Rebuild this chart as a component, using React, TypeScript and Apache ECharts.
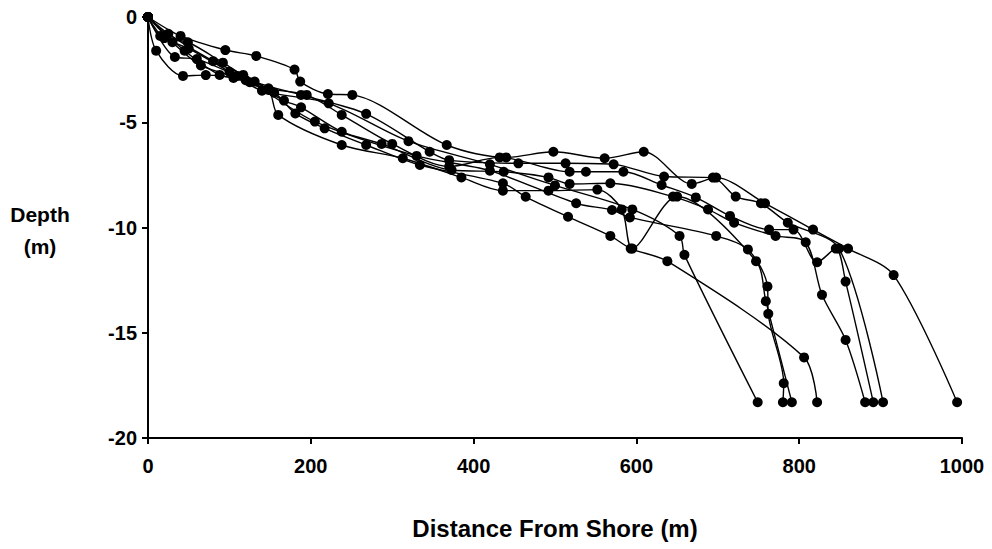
import React, { useEffect, useRef } from "react";
import * as echarts from "echarts";

const xTicks = [0, 200, 400, 600, 800, 1000];
const yTicks = [0, -5, -10, -15, -20];

const profile1: [number, number][] = [[0,0],[40,-0.9],[95,-1.57],[133,-1.85],[180,-2.5],[187,-3.07],[221,-3.66],[251,-3.7],[367,-6.08],[440,-6.67],[498,-6.4],[561,-6.71],[609,-6.4],[668,-7.93],[698,-7.63],[758,-8.85],[817,-10.1],[860,-11],[916,-12.26],[994,-18.3]];
const profile2: [number, number][] = [[0,0],[20,-1.0],[49,-1.2],[92,-2.17],[131,-3.07],[188,-3.7],[268,-4.6],[346,-6.4],[370,-6.8],[455,-6.95],[513,-6.95],[572,-7.0],[634,-7.58],[694,-7.63],[722,-8.53],[753,-8.85],[786,-9.77],[849,-11],[903,-18.3]];
const profile3: [number, number][] = [[0,0],[25,-0.8],[80,-2.1],[117,-2.75],[148,-3.39],[195,-3.7],[238,-4.65],[300,-6.03],[370,-7.1],[432,-6.67],[518,-7.35],[538,-7.35],[584,-7.35],[631,-7.98],[673,-8.57],[715,-9.45],[763,-10.1],[793,-10.1],[822,-11.65],[845,-11],[857,-12.57],[891,-18.3]];
const profile4: [number, number][] = [[0,0],[45,-1.6],[88,-2.75],[120,-3.0],[167,-3.97],[188,-4.29],[238,-5.45],[287,-6.03],[373,-7.27],[437,-7.35],[492,-7.62],[518,-7.93],[568,-7.9],[645,-8.53],[688,-9.14],[720,-9.77],[771,-10.4],[808,-10.7],[828,-13.2],[857,-15.34],[881,-18.3]];
const profile5: [number, number][] = [[0,0],[10,-1.6],[43,-2.8],[71,-2.76],[105,-2.9],[155,-3.6],[181,-4.58],[217,-5.29],[268,-6.08],[334,-7.03],[436,-7.9],[464,-8.54],[516,-9.49],[568,-10.4],[593,-11],[638,-11.6],[806,-16.17],[822,-18.3]];
const profile6: [number, number][] = [[0,0],[33,-1.9],[60,-2.0],[110,-2.8],[148,-3.47],[160,-4.65],[238,-6.08],[313,-6.71],[385,-7.62],[436,-8.25],[492,-8.25],[552,-8.2],[582,-9.14],[595,-11.0],[650,-8.53],[747,-11.6],[759,-13.5],[791,-18.3]];
const profile7: [number, number][] = [[0,0],[30,-1.2],[65,-2.3],[125,-3.1],[205,-4.97],[330,-6.6],[420,-7.3],[526,-8.85],[570,-9.17],[592,-9.52],[698,-10.4],[737,-11.04],[761,-12.8],[762,-14.1],[781,-17.4],[780,-18.3]];
const profile8: [number, number][] = [[0,0],[15,-0.9],[50,-1.5],[100,-2.6],[140,-3.5],[222,-4.1],[320,-5.9],[420,-7.0],[500,-8.0],[595,-9.14],[653,-10.4],[659,-11.3],[749,-18.3]];

const profiles = [profile1, profile2, profile3, profile4, profile5, profile6, profile7, profile8];

const FONT = "'Liberation Sans', Arial, sans-serif";

export default function App() {
  const ref = useRef<HTMLDivElement>(null);
  useEffect(() => {
    if (!ref.current) return;
    const chart = echarts.init(ref.current, undefined, { renderer: "svg" });
    chart.setOption({
      animation: false,
      backgroundColor: "#ffffff",
      grid: { left: 148, right: 30, top: 17, bottom: 111 },
      xAxis: {
        type: "value",
        min: xTicks[0],
        max: xTicks[xTicks.length - 1],
        interval: 200,
        name: "Distance From Shore (m)",
        nameLocation: "middle",
        nameGap: 78,
        nameTextStyle: { fontFamily: FONT, fontWeight: "bold", fontSize: 24, color: "#000" },
        axisLine: { show: true, onZero: false, lineStyle: { color: "#000", width: 2 } },
        axisTick: { show: true, length: 6, lineStyle: { color: "#000", width: 2 } },
        axisLabel: {
          margin: 18,
          fontFamily: FONT,
          fontWeight: "bold",
          fontSize: 20,
          color: "#000",
          formatter: (v: number) => String(v),
        },
        splitLine: { show: false },
      },
      yAxis: {
        type: "value",
        min: yTicks[yTicks.length - 1],
        max: yTicks[0],
        interval: 5,
        axisLine: { show: true, onZero: false, lineStyle: { color: "#000", width: 2 } },
        axisTick: { show: true, length: 6, lineStyle: { color: "#000", width: 2 } },
        axisLabel: { margin: 11, fontFamily: FONT, fontWeight: "bold", fontSize: 20, color: "#000" },
        splitLine: { show: false },
      },
      graphic: [
        {
          type: "text",
          x: 40,
          y: 214,
          style: {
            text: "Depth",
            fontFamily: FONT,
            fontWeight: "bold",
            fontSize: 21,
            fill: "#000",
            textAlign: "center",
            textVerticalAlign: "middle",
          },
        },
        {
          type: "text",
          x: 40,
          y: 246,
          style: {
            text: "(m)",
            fontFamily: FONT,
            fontWeight: "bold",
            fontSize: 21,
            fill: "#000",
            textAlign: "center",
            textVerticalAlign: "middle",
          },
        },
      ],
      series: profiles.map((p, i) => ({
        name: "Profile " + (i + 1),
        type: "line",
        data: p,
        smooth: 0.3,
        symbol: "circle",
        symbolSize: 10,
        lineStyle: { color: "#000", width: 1.4 },
        itemStyle: { color: "#000" },
      })),
    });
    return () => chart.dispose();
  }, []);
  return <div ref={ref} style={{ width: 992, height: 549, position: "absolute", left: 0, top: 0 }} />;
}
